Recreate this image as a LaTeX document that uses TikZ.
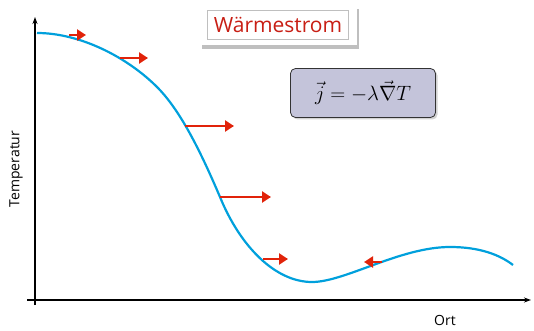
\documentclass[tikz,border=0pt]{standalone}
\usepackage{fontspec}
\setsansfont{Open Sans}
\usetikzlibrary{arrows.meta,shadows}
\definecolor{curveblue}{RGB}{0,160,220}
\definecolor{fluxred}{RGB}{225,35,10}
\definecolor{titlered}{RGB}{200,30,20}
\definecolor{formulafill}{RGB}{196,196,218}
\tikzset{
  axis/.style={line width=1.3pt,-{Stealth[length=7pt,width=5pt]}},
  curve/.style={curveblue,line width=2.2pt},
  flux/.style={fluxred,line width=2.8pt,-{Triangle[length=9pt,width=11pt]}},
  titlebox/.style={fill=white,minimum width=157pt,minimum height=40pt,drop shadow={shadow xshift=2pt,shadow yshift=-4pt,opacity=0.5}},
  titleframe/.style={draw=gray!50,thin,inner sep=2pt,minimum width=141pt,minimum height=29pt,font=\sffamily\fontsize{21}{23}\selectfont,text=titlered},
  formulabox/.style={draw=black!80,thick,rounded corners=5pt,fill=formulafill,minimum width=145pt,minimum height=49pt,font=\fontsize{22}{24}\selectfont,drop shadow={shadow xshift=2pt,shadow yshift=-2pt,opacity=0.35}},
  alab/.style={font=\sffamily\fontsize{14}{16}\selectfont}
}
\begin{document}
\begin{tikzpicture}[x=1pt,y=-1pt]
  \useasboundingbox (0,0) rectangle (534,331);
  % axes
  \coordinate (ytop) at (35,17);
  \coordinate (ybot) at (35,305);
  \coordinate (xleft) at (27,300);
  \coordinate (xright) at (531,300);
  \draw[axis] (ybot) -- (ytop);
  \draw[axis] (xleft) -- (xright);
  \node[alab,rotate=90] (tlab) at (16,169) {Temperatur};
  \node[alab] (olab) at (445,320) {Ort};
  % temperature profile
  \coordinate (c0) at (37,33);
  \coordinate (c1) at (157,87);
  \coordinate (c2) at (220,197);
  \coordinate (c3) at (312,282);
  \coordinate (c4) at (450,247);
  \coordinate (c5) at (513,265);
  \draw[curve] (c0) .. controls (80,33) and (127,57) .. (c1)
    .. controls (180,110) and (200,150) .. (c2)
    .. controls (240,246) and (275,282) .. (c3)
    .. controls (345,282) and (400,247) .. (c4)
    .. controls (480,247) and (500,255) .. (c5);
  % heat flux
  \coordinate (f1a) at (69,35); \coordinate (f1b) at (86,35);
  \coordinate (f2a) at (120,58); \coordinate (f2b) at (148,58);
  \coordinate (f3a) at (185,126); \coordinate (f3b) at (234,126);
  \coordinate (f4a) at (220,197); \coordinate (f4b) at (271,197);
  \coordinate (f5a) at (263,259); \coordinate (f5b) at (288,259);
  \coordinate (f6a) at (382,262); \coordinate (f6b) at (364,262);
  \draw[flux] (f1a) -- (f1b);
  \draw[flux] (f2a) -- (f2b);
  \draw[flux] (f3a) -- (f3b);
  \draw[flux] (f4a) -- (f4b);
  \draw[flux] (f5a) -- (f5b);
  \draw[flux] (f6a) -- (f6b);
  % labels
  \node[titlebox] (title) at (278,25) {};
  \node[titleframe] (titletext) at (title.center) {Wärmestrom};
  \node[formulabox] (law) at (363,93) {$\vec{j} = -\lambda\vec{\nabla}T$};
\end{tikzpicture}
\end{document}
